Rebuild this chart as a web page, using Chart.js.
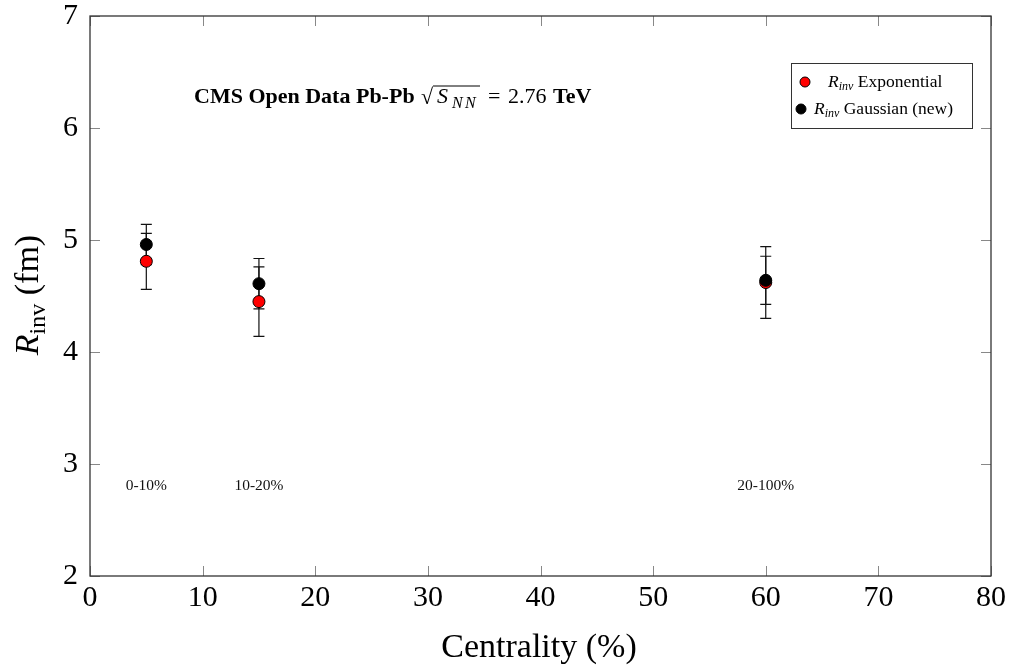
<!DOCTYPE html>
<html>
<head>
<meta charset="utf-8">
<script src="https://cdn.jsdelivr.net/npm/chart.js@4.4.0/dist/chart.umd.min.js"></script>
<style>
  html, body { margin: 0; padding: 0; background: #fff; }
  #wrap { width: 1013px; height: 668px; }
</style>
</head>
<body>
<div id="wrap"><canvas id="myChart" width="1013" height="668"></canvas></div>
<script>
const serif = "'Liberation Serif', 'DejaVu Serif', serif";

// data
const centrality = [5, 15, 60];
const expR = [4.81, 4.45, 4.62];
const expErr = [0.25, 0.31, 0.32];
const gausR = [4.96, 4.61, 4.64];
const gausErr = [0.18, 0.225, 0.215];

const binLabels = ["0-10%", "10-20%", "20-100%"];
const binLabelY = 2.8;

const xTicks = [0, 10, 20, 30, 40, 50, 60, 70, 80];
const yTicks = [2, 3, 4, 5, 6, 7];

const toPoints = (xs, ys) => xs.map((x, i) => ({ x: x, y: ys[i] }));

// error bars, drawn under the markers
const errorBars = {
  id: "errorBars",
  beforeDatasetsDraw(chart) {
    const ctx = chart.ctx;
    const xs = chart.scales.x, ys = chart.scales.y;
    const sets = [[expR, expErr], [gausR, gausErr]];
    ctx.save();
    ctx.strokeStyle = "#111";
    ctx.lineWidth = 1.2;
    sets.forEach(([vals, errs]) => {
      vals.forEach((v, i) => {
        const px = xs.getPixelForValue(centrality[i]);
        const top = ys.getPixelForValue(v + errs[i]);
        const bot = ys.getPixelForValue(v - errs[i]);
        ctx.beginPath();
        ctx.moveTo(px, top); ctx.lineTo(px, bot);
        ctx.moveTo(px - 5.5, top); ctx.lineTo(px + 5.5, top);
        ctx.moveTo(px - 5.5, bot); ctx.lineTo(px + 5.5, bot);
        ctx.stroke();
      });
    });
    ctx.restore();
  },
};

// frame, inward ticks on all four sides, texts
const decorations = {
  id: "decorations",
  afterDraw(chart) {
    const ctx = chart.ctx;
    const a = chart.chartArea;
    const xs = chart.scales.x, ys = chart.scales.y;
    ctx.save();

    ctx.strokeStyle = "#888";
    ctx.lineWidth = 1;
    ctx.beginPath();
    xTicks.forEach((t) => {
      const px = Math.round(xs.getPixelForValue(t)) + 0.5;
      ctx.moveTo(px, a.bottom); ctx.lineTo(px, a.bottom - 10);
      ctx.moveTo(px, a.top); ctx.lineTo(px, a.top + 10);
    });
    yTicks.forEach((t) => {
      const py = Math.round(ys.getPixelForValue(t)) + 0.5;
      ctx.moveTo(a.left, py); ctx.lineTo(a.left + 10, py);
      ctx.moveTo(a.right, py); ctx.lineTo(a.right - 10, py);
    });
    ctx.stroke();

    ctx.strokeStyle = "#333";
    ctx.lineWidth = 1.3;
    ctx.strokeRect(a.left, a.top, a.right - a.left, a.bottom - a.top);

    // bin labels
    ctx.fillStyle = "#111";
    ctx.font = "15.5px " + serif;
    ctx.textAlign = "center";
    ctx.textBaseline = "middle";
    binLabels.forEach((s, i) => {
      ctx.fillText(s, xs.getPixelForValue(centrality[i]), ys.getPixelForValue(binLabelY));
    });

    // x title
    ctx.fillStyle = "#000";
    ctx.font = "34px " + serif;
    ctx.textAlign = "center";
    ctx.textBaseline = "alphabetic";
    ctx.fillText("Centrality (%)", 539, 657);

    // y title: R_inv (fm)
    ctx.save();
    ctx.translate(38, 295);
    ctx.rotate(-Math.PI / 2);
    ctx.textAlign = "left";
    const fR = "italic 34px " + serif, fSub = "24px " + serif, fMain = "34px " + serif;
    ctx.font = fR; const wR = ctx.measureText("R").width;
    ctx.font = fSub; const wS = ctx.measureText("inv").width;
    ctx.font = fMain; const wM = ctx.measureText(" (fm)").width;
    let x0 = -(wR + wS + wM) / 2;
    ctx.font = fR; ctx.fillText("R", x0, 0); x0 += wR;
    ctx.font = fSub; ctx.fillText("inv", x0, 7); x0 += wS;
    ctx.font = fMain; ctx.fillText(" (fm)", x0, 0);
    ctx.restore();

    // headline
    const hy = 103;
    ctx.textAlign = "left";
    ctx.font = "bold 22px " + serif;
    ctx.fillText("CMS Open Data Pb-Pb", 194, hy);
    ctx.font = "22px " + serif;
    ctx.fillText("\u221A", 421, hy + 1);
    ctx.font = "italic 22px " + serif;
    ctx.fillText("S", 437, hy);
    ctx.font = "italic 16px " + serif;
    ctx.fillText("N", 452, hy + 5);
    ctx.fillText("N", 465, hy + 5);
    ctx.lineWidth = 1;
    ctx.strokeStyle = "#000";
    ctx.beginPath();
    ctx.moveTo(433, hy - 17); ctx.lineTo(480, hy - 17);
    ctx.stroke();
    ctx.font = "22px " + serif;
    ctx.fillText("=", 488, hy);
    ctx.fillText("2.76", 508, hy);
    ctx.font = "bold 22px " + serif;
    ctx.fillText("TeV", 553, hy);

    // legend box
    ctx.strokeStyle = "#333";
    ctx.lineWidth = 1;
    ctx.strokeRect(791.5, 63.5, 181, 65);
    const entries = [
      { color: "#ff0000", mx: 805, my: 82, tx: 828, ty: 87, name: " Exponential" },
      { color: "#000000", mx: 801, my: 109, tx: 814, ty: 114, name: " Gaussian (new)" },
    ];
    entries.forEach((e) => {
      ctx.beginPath();
      ctx.arc(e.mx, e.my, 5, 0, Math.PI * 2);
      ctx.fillStyle = e.color;
      ctx.fill();
      ctx.strokeStyle = "#000";
      ctx.stroke();
      ctx.fillStyle = "#000";
      let lx = e.tx;
      ctx.font = "italic 17.5px " + serif;
      ctx.fillText("R", lx, e.ty);
      lx += ctx.measureText("R").width;
      ctx.font = "italic 12px " + serif;
      ctx.fillText("inv", lx, e.ty + 3);
      lx += ctx.measureText("inv").width;
      ctx.font = "17.5px " + serif;
      ctx.fillText(e.name, lx, e.ty);
    });

    ctx.restore();
  },
};

const noPad = (s) => {
  s.paddingTop = 0; s.paddingBottom = 0;
  s.paddingLeft = 0; s.paddingRight = 0;
};

const data = {
  datasets: [
    {
      label: "Rinv Exponential",
      data: toPoints(centrality, expR),
      backgroundColor: "#ff0000",
      borderColor: "#000",
      borderWidth: 1,
      pointRadius: 6,
      order: 1,
    },
    {
      label: "Rinv Gaussian (new)",
      data: toPoints(centrality, gausR),
      backgroundColor: "#000",
      borderColor: "#000",
      borderWidth: 1,
      pointRadius: 6,
      order: 0,
    },
  ],
};

const config = {
  type: "scatter",
  data,
  options: {
    responsive: false,
    animation: false,
    layout: { padding: { top: 16, right: 22, left: 0, bottom: 0 } },
    scales: {
      x: {
        type: "linear",
        min: 0,
        max: 80,
        afterFit: (s) => { s.height = 92; noPad(s); },
        ticks: {
          stepSize: 10,
          maxRotation: 0,
          padding: 4,
          color: "#000",
          font: { family: serif, size: 30 },
        },
        grid: { display: false, drawTicks: false },
        border: { display: false },
      },
      y: {
        min: 2,
        max: 7,
        afterFit: (s) => { s.width = 90; noPad(s); },
        ticks: {
          stepSize: 1,
          padding: 12,
          color: "#000",
          font: { family: serif, size: 30 },
        },
        grid: { display: false, drawTicks: false },
        border: { display: false },
      },
    },
    plugins: {
      legend: { display: false },
      tooltip: { enabled: false },
    },
  },
  plugins: [errorBars, decorations],
};

const myChart = new Chart(document.getElementById("myChart"), config);
</script>
</body>
</html>
